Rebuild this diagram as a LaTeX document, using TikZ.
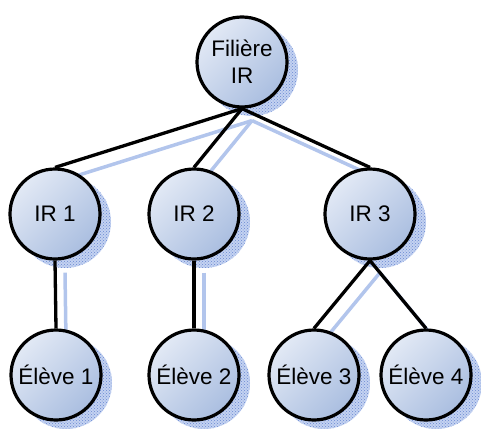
\documentclass[tikz,border=0pt]{standalone}
\usepackage{fontspec}
\setmainfont{Liberation Sans}
\usetikzlibrary{patterns,backgrounds}
\definecolor{topc}{RGB}{226,233,245}
\definecolor{botc}{RGB}{170,190,224}
\definecolor{shadc}{RGB}{105,138,210}
\definecolor{shadbase}{RGB}{196,210,241}
\definecolor{shadline}{RGB}{178,197,236}
\tikzset{
  orgnode/.style={circle, draw=black, line width=3.2pt, minimum size=90pt, inner sep=0pt,
    shading=axis, top color=topc, bottom color=botc, shading angle=45,
    font=\fontsize{22.5}{27}\selectfont, align=center},
  conn/.style={draw=black, line width=3.3pt},
  shadconn/.style={draw=shadline, line width=3.5pt},
  shadcirc/.style={pattern=crosshatch dots, pattern color=shadc},
  shadfill/.style={fill=shadbase},
}
\begin{document}
\begin{tikzpicture}[x=1pt,y=-1pt]
\useasboundingbox (0,0) rectangle (481,428);
\node[orgnode] (root) at (242,62) {Filière\\IR};
\node[orgnode] (ir1) at (55,214) {IR 1};
\node[orgnode] (ir2) at (194,214) {IR 2};
\node[orgnode] (ir3) at (370,214) {IR 3};
\node[orgnode] (e1) at (56,375) {Élève 1};
\node[orgnode] (e2) at (194,375) {Élève 2};
\node[orgnode] (e3) at (314,375) {Élève 3};
\node[orgnode] (e4) at (426,375) {Élève 4};
\begin{pgfonlayer}{background}
  \foreach \n in {root,ir1,ir2,ir3,e1,e2,e3,e4}{
    \fill[shadfill] ([shift={(10,8)}]\n.center) circle[radius=46pt];
    \fill[shadcirc] ([shift={(10,8)}]\n.center) circle[radius=46pt];
  }
  \foreach \a/\b in {root/ir1,root/ir2,root/ir3,ir1/e1,ir2/e2,ir3/e3,ir3/e4}{
    \draw[shadconn] ([shift={(10,12)}]\a.south) -- ([shift={(10,12)}]\b.north);
  }
  \foreach \a/\b in {root/ir1,root/ir2,root/ir3,ir1/e1,ir2/e2,ir3/e3,ir3/e4}{
    \draw[conn] (\a.south) -- (\b.north);
  }
\end{pgfonlayer}
\end{tikzpicture}
\end{document}
